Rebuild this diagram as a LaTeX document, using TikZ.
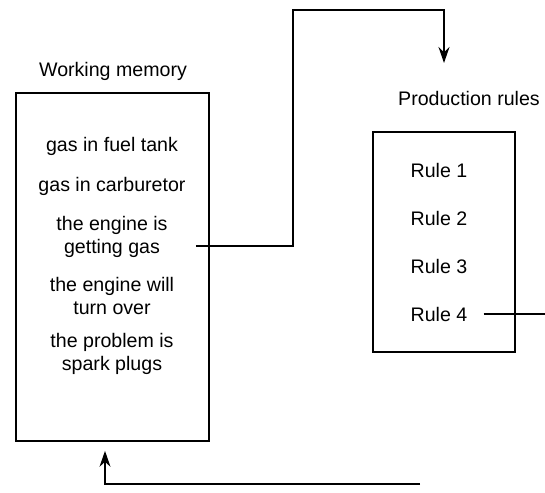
\documentclass[tikz,border=0pt]{standalone}
\usepackage{fontspec}
\setmainfont{Liberation Sans}
\usepackage{tikz}
\usetikzlibrary{arrows.meta,positioning,calc}
\tikzset{
  box/.style={draw, line width=.85pt, fill=white, inner sep=0pt},
  fact/.style={align=center, font=\fontsize{9.8}{11.4}\selectfont, inner sep=1pt},
  ttl/.style={font=\fontsize{9.8}{11.4}\selectfont, inner sep=1pt},
  ln/.style={line width=.85pt, draw=black},
  ar/.style={ln, -{Stealth[length=8pt,width=5.5pt]}},
}

\begin{document}
\begin{tikzpicture}[x=0.5pt, y=-0.5pt]
    \useasboundingbox (0,0) rectangle (545,492);

    \node[ttl] (wmtitle) at (113,71) {Working memory};
    \node[box, minimum width=96.5pt, minimum height=174pt] (wm) at (112.5,267) {};
    \node[fact] (f1) at (112,146) {gas in fuel tank};
    \node[fact] (f2) at (112,186) {gas in carburetor};
    \node[fact] (f3) at (112,237) {the engine is\\getting gas};
    \node[fact] (f4) at (112,296) {the engine will\\turn over};
    \node[fact] (f5) at (112,354) {the problem is\\spark plugs};

    \node[ttl] (prtitle) at (469,98) {Production rules};
    \node[box, minimum width=71pt, minimum height=110pt] (pr) at (444,242) {};
    \node[fact] (r1) at (439,170) {Rule 1};
    \node[fact] (r2) at (439,218) {Rule 2};
    \node[fact] (r3) at (439,266) {Rule 3};
    \node[fact] (r4) at (439,314) {Rule 4};

    % free ends
    \coordinate (up1) at (293,246);
    \coordinate (up2) at (293,10);
    \coordinate (top) at (444,10);
    \coordinate (tip) at (444,63);
    \coordinate (out) at (545,314);
    \coordinate (low1) at (420,484);
    \coordinate (low2) at (105,484);

    \draw[ar] ([xshift=-7pt]wm.east |- up1) -- (up1) -- (up2) -- (top) -- (tip);
    \draw[ln] ([xshift=7pt]r4.east) -- (out);
    \draw[ar] (low1) -- (low2) -- ([yshift=-4.5pt]low2 |- wm.south);
\end{tikzpicture}
\end{document}
